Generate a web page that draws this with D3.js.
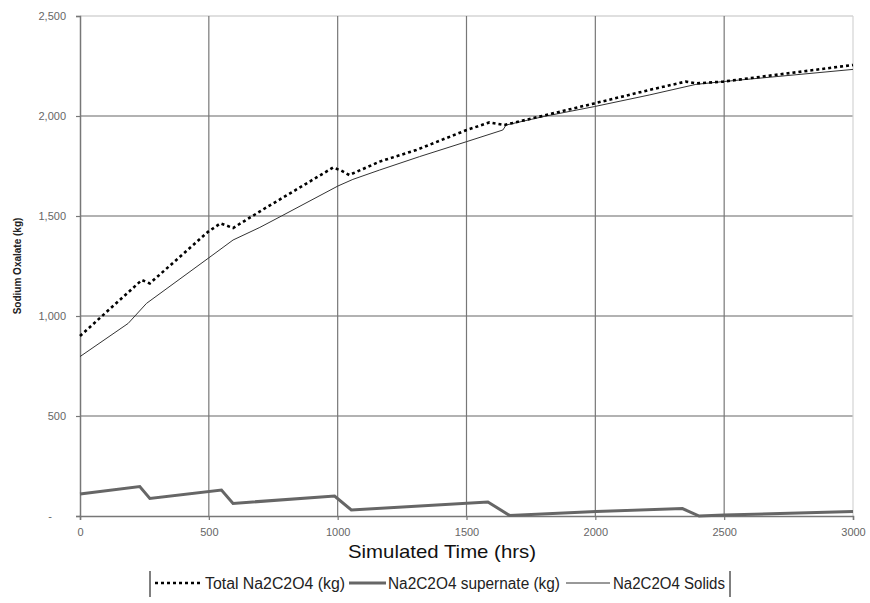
<!DOCTYPE html>
<html>
<head>
<meta charset="utf-8">
<script src="https://cdn.jsdelivr.net/npm/d3@7"></script>
<style>
  body { margin: 0; background: #fff; }
  svg { display: block; font-family: "Liberation Sans", Arial, sans-serif; }
</style>
</head>
<body>
<div id="chart"></div>
<script>
// Total Na2C2O4 (kg) - dotted
const totalHours = [0, 240, 271, 497, 545, 594, 711, 982, 1014, 1045, 1163, 1305, 1501, 1589, 1647, 1809, 1996, 2209, 2351, 2390, 2496, 3000];
const totalKg = [900, 1180, 1163, 1421, 1463, 1440, 1533, 1742, 1727, 1705, 1772, 1830, 1930, 1968, 1955, 2005, 2063, 2130, 2172, 2163, 2172, 2255];

// Na2C2O4 supernate (kg) - thick
const supernateHours = [0, 232, 271, 549, 594, 988, 1053, 1583, 1667, 2003, 2338, 2403, 2500, 3000];
const supernateKg = [110, 147, 88, 130, 63, 100, 30, 70, 3, 22, 37, 0, 5, 22];

// Na2C2O4 Solids - thin
const solidsHours = [0, 187, 258, 497, 594, 698, 782, 1001, 1059, 1163, 1318, 1501, 1641, 1654, 1809, 1996, 2209, 2390, 2496, 3000];
const solidsKg = [797, 963, 1063, 1288, 1380, 1443, 1500, 1650, 1683, 1730, 1797, 1872, 1930, 1955, 2000, 2047, 2105, 2158, 2172, 2233];

const xTicks = [0, 500, 1000, 1500, 2000, 2500, 3000];
const yTicks = [0, 500, 1000, 1500, 2000, 2500];
const legendLabels = ["Total Na2C2O4 (kg)", "Na2C2O4 supernate (kg)", "Na2C2O4 Solids"];

const width = 870, height = 603;
const margin = {top: 16, right: 17, bottom: 87, left: 80};

const svg = d3.select('#chart').append('svg')
  .attr('width', width)
  .attr('height', height);

const x = d3.scaleLinear().domain([0, 3000]).range([margin.left, width - margin.right]);
const y = d3.scaleLinear().domain([0, 2500]).range([height - margin.bottom, margin.top]);

// grid
const grid = svg.append('g').attr('class', 'grid');
grid.selectAll('.hgrid')
  .data(yTicks.filter(d => d > 0))
  .enter().append('line')
  .attr('x1', x(0)).attr('x2', x(3000))
  .attr('y1', d => y(d)).attr('y2', d => y(d))
  .style('stroke', d => d === 2500 ? '#d4d4d4' : '#999')
  .style('stroke-width', 1.4);
grid.selectAll('.vgrid')
  .data(xTicks.filter(d => d > 0))
  .enter().append('line')
  .attr('x1', d => x(d)).attr('x2', d => x(d))
  .attr('y1', y(0)).attr('y2', y(2500))
  .style('stroke', d => d === 3000 ? '#d4d4d4' : '#777')
  .style('stroke-width', 1.2);

// axes
const yAxis = d3.axisLeft(y)
  .tickValues(yTicks)
  .tickSize(4)
  .tickPadding(10)
  .tickFormat(d => d === 0 ? '-' : d3.format(',')(d));
const xAxis = d3.axisBottom(x)
  .tickValues(xTicks)
  .tickSize(4)
  .tickPadding(8)
  .tickFormat(d3.format('d'));

svg.append('g')
  .attr('class', 'y axis')
  .attr('transform', `translate(${margin.left},0)`)
  .call(yAxis);
svg.append('g')
  .attr('class', 'x axis')
  .attr('transform', `translate(0,${height - margin.bottom})`)
  .call(xAxis);

svg.selectAll('.axis .domain').style('stroke', '#777').style('stroke-width', 1.5);
svg.selectAll('.axis .tick line').style('stroke', '#777').style('stroke-width', 1.2);
svg.selectAll('.axis text')
  .style('fill', '#666')
  .style('font-size', '11px');
// accounting style zero dash sits further left
svg.selectAll('.y.axis .tick text').filter(d => d === 0).attr('x', -28);

// axis titles
svg.append('text')
  .attr('transform', `translate(21,${(y(0) + y(2500)) / 2}) rotate(-90)`)
  .attr('text-anchor', 'middle')
  .style('font-size', '10px')
  .style('font-weight', 'bold')
  .style('fill', '#222')
  .text('Sodium Oxalate (kg)');

svg.append('text')
  .attr('x', 348)
  .attr('y', 558)
  .attr('textLength', 188)
  .attr('lengthAdjust', 'spacingAndGlyphs')
  .style('font-size', '19px')
  .style('fill', '#111')
  .text('Simulated Time (hrs)');

// lines
const line = d3.line()
  .x(d => x(d[0]))
  .y(d => y(d[1]));

const lines = svg.append('g').attr('class', 'lines');

lines.append('path')
  .datum(d3.zip(supernateHours, supernateKg))
  .attr('d', line)
  .style('fill', 'none')
  .style('stroke', '#666')
  .style('stroke-width', 3);

lines.append('path')
  .datum(d3.zip(solidsHours, solidsKg))
  .attr('d', line)
  .style('fill', 'none')
  .style('stroke', '#333')
  .style('stroke-width', 1);

lines.append('path')
  .datum(d3.zip(totalHours, totalKg))
  .attr('d', line)
  .style('fill', 'none')
  .style('stroke', '#000')
  .style('stroke-width', 2.6)
  .style('stroke-dasharray', '3,3');

// legend
const legend = svg.append('g').attr('class', 'legend');
const ly = 583;
legend.append('line').attr('x1', 150).attr('x2', 150).attr('y1', 571).attr('y2', 597)
  .style('stroke', '#000').style('stroke-width', 1);
legend.append('line').attr('x1', 730).attr('x2', 730).attr('y1', 571).attr('y2', 597)
  .style('stroke', '#000').style('stroke-width', 1);

const legendItems = [
  {sx: 155, ex: 201, tx: 205, len: 140, stroke: '#000', w: 2.6, dash: '3,3'},
  {sx: 349, ex: 386, tx: 388, len: 172, stroke: '#666', w: 3, dash: null},
  {sx: 566, ex: 610, tx: 613, len: 112, stroke: '#333', w: 1, dash: null}
];
legendItems.forEach((it, i) => {
  legend.append('line')
    .attr('x1', it.sx).attr('x2', it.ex)
    .attr('y1', ly).attr('y2', ly)
    .style('stroke', it.stroke)
    .style('stroke-width', it.w)
    .style('stroke-dasharray', it.dash);
  legend.append('text')
    .attr('x', it.tx)
    .attr('y', ly + 6)
    .attr('textLength', it.len)
    .attr('lengthAdjust', 'spacingAndGlyphs')
    .style('font-size', '16px')
    .style('fill', '#222')
    .text(legendLabels[i]);
});
</script>
</body>
</html>
